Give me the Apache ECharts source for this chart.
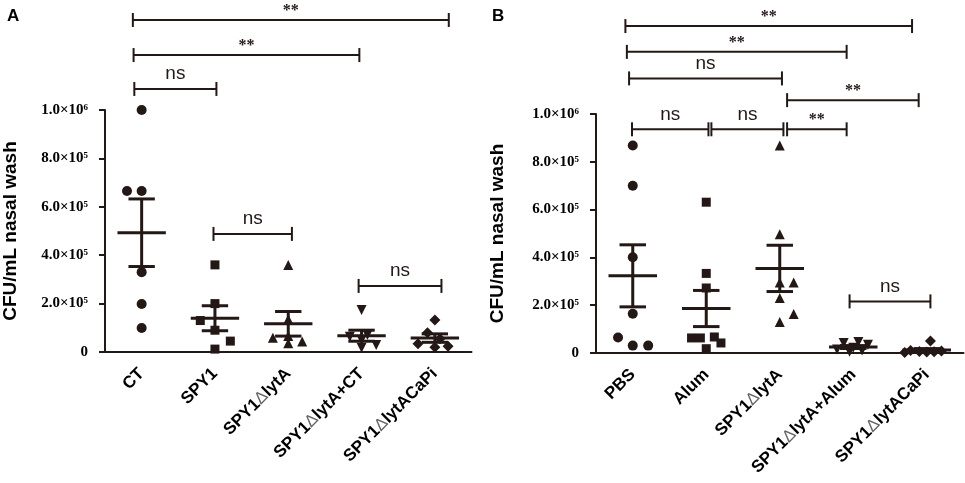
<!DOCTYPE html>
<html>
<head>
<meta charset="utf-8">
<script src="https://cdn.jsdelivr.net/npm/echarts@6/dist/echarts.min.js"></script>
<style>
html, body { margin: 0; padding: 0; background: #fff; }
#chart { width: 965px; height: 483px; }
</style>
</head>
<body>
<div id="chart"></div>
<script>
var catsA = ['CT', 'SPY1', 'SPY1ΔlytA', 'SPY1ΔlytA+CT', 'SPY1ΔlytACaPi'];
var catsB = ['PBS', 'Alum', 'SPY1ΔlytA', 'SPY1ΔlytA+Alum', 'SPY1ΔlytACaPi'];
var yTickLabels = ['0', '2.0×10⁵', '4.0×10⁵', '6.0×10⁵', '8.0×10⁵', '1.0×10⁶'];

// CFU/mL nasal wash, in units of 1e5
var valsA = [
    [10.0, 6.65, 6.65, 3.3, 1.98, 0.99],
    [3.6, 2.0, 1.3, 0.9, 0.45, 0.12],
    [3.6, 1.35, 0.66, 0.59, 0.43, 0.36],
    [1.74, 0.7, 0.63, 0.5, 0.29, 0.18],
    [1.32, 0.8, 0.55, 0.34, 0.24, 0.2]
];
// sideways spread of each dot, in category widths
var jitA = [
    [0, -0.2, 0, 0, 0, 0],
    [0, 0, -0.2, 0, 0.21, 0],
    [0, 0, 0, -0.21, 0.19, 0],
    [0, 0.08, -0.16, 0, 0.2, 0],
    [0, -0.1, 0.07, -0.23, 0.18, 0]
];
var valsB = [
    [8.68, 7.0, 4.01, 1.64, 0.65, 0.31, 0.31],
    [6.31, 3.33, 2.72, 0.67, 0.63, 0.63, 0.42, 0.18],
    [8.68, 4.97, 2.95, 2.95, 2.3, 1.63, 1.3],
    [0.46, 0.42, 0.35, 0.22, 0.15, 0.1, 0.05],
    [0.5, 0.1, 0.08, 0.06, 0.05, 0.04, 0.02]
];
var jitB = [
    [0, 0, 0, 0, -0.2, 0, 0.21],
    [0, 0, 0, 0.11, -0.2, -0.08, 0.2, 0],
    [0, 0, 0, 0.19, 0, 0.19, 0],
    [0.07, -0.13, 0.2, 0, -0.22, 0.12, -0.05],
    [0.05, -0.22, 0.2, -0.1, 0.1, 0, -0.3]
];

// significance brackets: [from, to, height]
var bracketsA = [[-0.12, 4.19, 13.72], [-0.11, 2.97, 12.27], [-0.1, 1.02, 10.87], [0.98, 2.05, 4.88], [2.96, 4.09, 2.73]];
var bracketLabelsA = ['**', '**', 'ns', 'ns', 'ns'];
var bracketsB = [[-0.1, 3.8, 13.68], [-0.08, 2.91, 12.6], [-0.05, 2.03, 11.49], [2.1, 3.89, 10.58],
    [-0.01, 1.03, 9.36], [1.07, 2.05, 9.36], [2.1, 2.91, 9.36], [2.95, 4.05, 2.16]];
var bracketLabelsB = ['**', '**', 'ns', '**', 'ns', 'ns', '**', 'ns'];

var symbols = ['circle', 'rect', 'triangle', 'triangle', 'diamond'];
var symbolRot = [0, 0, 0, 180, 0];
var symbolSz = [10, 9, 10, 10, 11];

var ink = '#231815';
var sans = 'Liberation Sans, Arial, sans-serif';
var serif = 'Liberation Serif, Times New Roman, serif';

function meanSem(arr) {
    var n = arr.length, m = 0, ss = 0;
    for (var i = 0; i < n; i++) m += arr[i];
    m = m / n;
    for (var i = 0; i < n; i++) ss += (arr[i] - m) * (arr[i] - m);
    return [m, Math.sqrt(ss / (n - 1)) / Math.sqrt(n)];
}

function errRender(params, api) {
    var i = api.value(0), m = api.value(1), s = api.value(2);
    var c = api.coord([i, m]);
    var hi = api.coord([i, m + s]);
    var lo = api.coord([i, m - s]);
    var w = api.size([1, 0])[0];
    var st = { stroke: ink, lineWidth: 3 };
    return {
        type: 'group',
        children: [
            { type: 'line', shape: { x1: c[0], y1: hi[1], x2: c[0], y2: lo[1] }, style: st },
            { type: 'line', shape: { x1: c[0] - 0.33 * w, y1: c[1], x2: c[0] + 0.33 * w, y2: c[1] }, style: st },
            { type: 'line', shape: { x1: c[0] - 0.18 * w, y1: hi[1], x2: c[0] + 0.18 * w, y2: hi[1] }, style: st },
            { type: 'line', shape: { x1: c[0] - 0.18 * w, y1: lo[1], x2: c[0] + 0.18 * w, y2: lo[1] }, style: st }
        ]
    };
}

function bracketRender(labels) {
    return function(params, api) {
        var a = api.coord([api.value(0), api.value(2)]);
        var b = api.coord([api.value(1), api.value(2)]);
        var lab = labels[params.dataIndex];
        var st = { stroke: ink, lineWidth: 2 };
        var star = lab == '**';
        return {
            type: 'group',
            children: [
                { type: 'line', shape: { x1: a[0], y1: a[1], x2: b[0], y2: b[1] }, style: st },
                { type: 'line', shape: { x1: a[0], y1: a[1] - 7, x2: a[0], y2: a[1] + 7 }, style: st },
                { type: 'line', shape: { x1: b[0], y1: b[1] - 7, x2: b[0], y2: b[1] + 7 }, style: st },
                {
                    type: 'text',
                    x: (a[0] + b[0]) / 2,
                    y: a[1] - (star ? 9 : 15),
                    style: {
                        text: lab,
                        fill: ink,
                        fontSize: star ? 16 : 19,
                        fontWeight: star ? 'bold' : 'normal',
                        fontFamily: star ? serif : sans,
                        align: 'center',
                        verticalAlign: 'middle'
                    }
                }
            ]
        };
    };
}

function catLabel(v) {
    return v.replace('Δ', '{d|Δ}');
}

function catAxis(grid, cats) {
    return {
        type: 'category',
        gridIndex: grid,
        data: cats,
        boundaryGap: true,
        axisLine: { onZero: false, lineStyle: { color: ink, width: 2 } },
        axisTick: { alignWithLabel: true, length: 6, lineStyle: { color: ink, width: 2 } },
        axisLabel: {
            rotate: 45,
            margin: 19,
            interval: 0,
            fontSize: 17,
            fontWeight: 'bold',
            fontFamily: sans,
            color: '#000',
            formatter: catLabel,
            rich: {
                d: { fontSize: 17, fontWeight: 'normal', fontFamily: sans, color: '#666' }
            }
        }
    };
}

function valAxis(grid, gap) {
    return {
        type: 'value',
        gridIndex: grid,
        min: 0,
        max: 10,
        interval: 2,
        name: 'CFU/mL nasal wash',
        nameLocation: 'middle',
        nameGap: gap,
        nameTextStyle: { fontSize: 19, fontWeight: 'bold', fontFamily: sans, color: '#000' },
        axisLine: { show: true, onZero: false, lineStyle: { color: ink, width: 2 } },
        axisTick: { show: true, length: 6, lineStyle: { color: ink, width: 2 } },
        splitLine: { show: false },
        axisLabel: {
            margin: 17,
            fontSize: 15,
            fontWeight: 'bold',
            fontFamily: serif,
            color: '#000',
            formatter: function(v) { return yTickLabels[Math.round(v / 2)]; }
        }
    };
}

function panelSeries(vals, jit, xIdx, yIdx, brackets, labels) {
    var out = [];
    var err = [];
    for (var g = 0; g < vals.length; g++) {
        var pts = [];
        for (var k = 0; k < vals[g].length; k++) pts.push([g + jit[g][k], vals[g][k]]);
        out.push({
            type: 'scatter',
            xAxisIndex: xIdx,
            yAxisIndex: yIdx,
            symbol: symbols[g],
            symbolRotate: symbolRot[g],
            symbolSize: symbolSz[g],
            itemStyle: { color: ink, opacity: 1 },
            data: pts
        });
        var ms = meanSem(vals[g]);
        err.push([g, ms[0], ms[1]]);
    }
    out.push({ type: 'custom', xAxisIndex: xIdx, yAxisIndex: yIdx, renderItem: errRender, data: err, z: 3 });
    out.push({ type: 'custom', xAxisIndex: xIdx, yAxisIndex: yIdx, clip: false, renderItem: bracketRender(labels), data: brackets, z: 3 });
    return out;
}

var chart = echarts.init(document.getElementById('chart'));
var opt = {
    animation: false,
    backgroundColor: '#fff',
    title: [
        { text: 'A', left: 7, top: 8, padding: 0, textStyle: { fontSize: 17, fontWeight: 'bold', fontFamily: sans, color: '#000' } },
        { text: 'B', left: 492, top: 8, padding: 0, textStyle: { fontSize: 17, fontWeight: 'bold', fontFamily: sans, color: '#000' } }
    ],
    grid: [
        { left: 105, right: 493.5, top: 110, bottom: 131 },
        { left: 596, right: 1.5, top: 114, bottom: 130 }
    ],
    xAxis: [
        catAxis(0, catsA),
        { type: 'value', gridIndex: 0, min: -0.5, max: 4.5, show: false },
        catAxis(1, catsB),
        { type: 'value', gridIndex: 1, min: -0.5, max: 4.5, show: false }
    ],
    yAxis: [valAxis(0, 85), valAxis(1, 89)],
    series: panelSeries(valsA, jitA, 1, 0, bracketsA, bracketLabelsA)
        .concat(panelSeries(valsB, jitB, 3, 1, bracketsB, bracketLabelsB))
};
chart.setOption(opt);
</script>
</body>
</html>
